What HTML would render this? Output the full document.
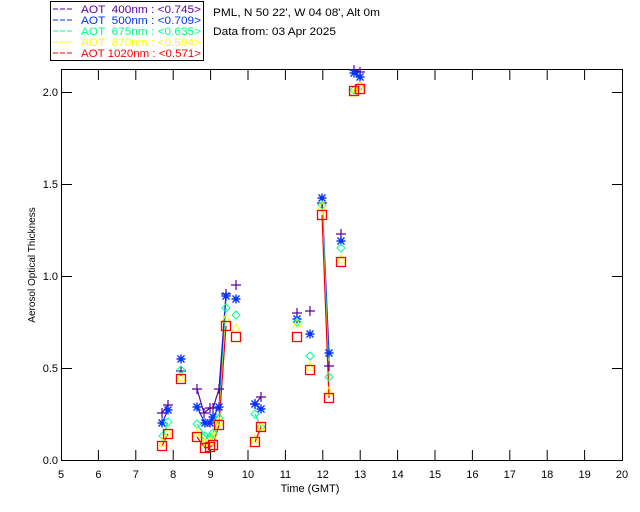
<!DOCTYPE html>
<html><head><meta charset="utf-8"><style>
body{margin:0;background:#fff;}
svg{display:block;font-family:"Liberation Sans",sans-serif;}
</style></head><body>
<svg width="640" height="512" viewBox="0 0 640 512" xmlns="http://www.w3.org/2000/svg">
<defs>
<g id="pl"><path d="M-5 0H5M0 -5V5" stroke="#5a00a0" stroke-width="1.2" fill="none"/></g>
<g id="as"><path d="M-4.5 0H4.5M0 -4.5V4.5M-3.5 -3.5L3.5 3.5M-3.5 3.5L3.5 -3.5" stroke="#0033ff" stroke-width="1.4" fill="none"/></g>
<g id="di"><path d="M0 -4L4 0L0 4L-4 0Z" stroke="#00ff99" stroke-width="1" fill="none"/></g>
<g id="tr"><path d="M0 -5L4 3H-4Z" stroke="#ffff00" stroke-width="1" fill="none"/></g>
<g id="sq"><rect x="-4.5" y="-4.5" width="9" height="9" stroke="#ff0000" stroke-width="1.3" fill="none"/></g>
</defs>
<rect width="640" height="512" fill="#fff"/>
<rect x="50.5" y="1.5" width="153" height="59" fill="none" stroke="#000"/>
<g font-size="11">
<line x1="53" y1="9" x2="73" y2="9" stroke="#5a00a0" stroke-dasharray="5,2"/><text x="81" y="13" fill="#5a00a0" xml:space="preserve" textLength="120" lengthAdjust="spacingAndGlyphs">AOT  400nm : &lt;0.745&gt;</text>
<line x1="53" y1="20" x2="73" y2="20" stroke="#0033ff" stroke-dasharray="5,2"/><text x="81" y="24" fill="#0033ff" xml:space="preserve" textLength="120" lengthAdjust="spacingAndGlyphs">AOT  500nm : &lt;0.709&gt;</text>
<line x1="53" y1="31" x2="73" y2="31" stroke="#00ff99" stroke-dasharray="5,2"/><text x="81" y="35" fill="#00ff80" xml:space="preserve" textLength="120" lengthAdjust="spacingAndGlyphs">AOT  675nm : &lt;0.635&gt;</text>
<line x1="53" y1="42" x2="73" y2="42" stroke="#ffff00" stroke-dasharray="5,2"/><text x="81" y="46" fill="#ffff00" xml:space="preserve" textLength="120" lengthAdjust="spacingAndGlyphs">AOT  870nm : &lt;0.594&gt;</text>
<line x1="53" y1="53" x2="73" y2="53" stroke="#ff0000" stroke-dasharray="5,2"/><text x="81" y="57" fill="#ff0000" xml:space="preserve" textLength="120" lengthAdjust="spacingAndGlyphs">AOT 1020nm : &lt;0.571&gt;</text>
<text x="213" y="16" fill="#000" textLength="167" lengthAdjust="spacingAndGlyphs">PML, N 50 22', W 04 08', Alt 0m</text>
<text x="213" y="35" fill="#000" textLength="123" lengthAdjust="spacingAndGlyphs">Data from: 03 Apr 2025</text>
</g>
<rect x="61.5" y="69.5" width="561" height="391" fill="none" stroke="#000"/>
<g stroke="#000">
<path d="M98.4 460V450M135.8 460V450M173.2 460V450M210.6 460V450M248 460V450M285.4 460V450M322.8 460V450M360.2 460V450M397.6 460V450M435 460V450M472.4 460V450M509.8 460V450M547.2 460V450M584.6 460V450"/>
<path d="M98.4 70V80M135.8 70V80M173.2 70V80M210.6 70V80M248 70V80M285.4 70V80M322.8 70V80M360.2 70V80M397.6 70V80M435 70V80M472.4 70V80M509.8 70V80M547.2 70V80M584.6 70V80"/>
<path d="M62 368.5H72M62 276.5H72M62 184.5H72M62 92.5H72M622 368.5H612M622 276.5H612M622 184.5H612M622 92.5H612"/>
</g>
<g font-size="11" fill="#000" text-anchor="middle">
<text x="61" y="478">5</text><text x="98.4" y="478">6</text><text x="135.8" y="478">7</text><text x="173.2" y="478">8</text><text x="210.6" y="478">9</text><text x="248" y="478">10</text><text x="285.4" y="478">11</text><text x="322.8" y="478">12</text><text x="360.2" y="478">13</text><text x="397.6" y="478">14</text><text x="435" y="478">15</text><text x="472.4" y="478">16</text><text x="509.8" y="478">17</text><text x="547.2" y="478">18</text><text x="584.6" y="478">19</text><text x="622" y="478">20</text>
<text x="310" y="492">Time (GMT)</text>
</g>
<g font-size="11" fill="#000" text-anchor="end">
<text x="58" y="464">0.0</text><text x="58" y="372">0.5</text><text x="58" y="280">1.0</text><text x="58" y="188">1.5</text><text x="58" y="96">2.0</text>
</g>
<text transform="translate(35 265) rotate(-90)" font-size="10" text-anchor="middle" fill="#000">Aerosol Optical Thickness</text>
<g fill="none" stroke-width="1.2">
<g stroke="#5a00a0"><polyline points="162,413 168,405"/><polyline points="197,389 204,413 210,408 213,408 219,389 226,294"/><polyline points="255,404 261,397"/><polyline points="322,203 329,366"/><polyline points="354,70 360,72"/></g>
<g stroke="#0033ff"><polyline points="162,423 168,410"/><polyline points="197,407 205,423 210,423 213,417 219,407 226,296"/><polyline points="255,404 261,409"/><polyline points="322,198 329,353"/><polyline points="354,73 360,77"/></g>
<g stroke="#00ff99"><polyline points="163,436 168,422"/><polyline points="197,424 205,436 210,437 213,433 219,418 226,308"/><polyline points="255,414 261,427"/><polyline points="322,205 329,377"/><polyline points="354,90 360,86"/></g>
<g stroke="#ffff00"><polyline points="163,443 168,433"/><polyline points="197,433 205,443 210,442 213,438 219,422 226,319"/><polyline points="255,440 261,427"/><polyline points="322,207 329,392"/><polyline points="354,93 360,87"/></g>
<g stroke="#ff0000"><polyline points="162,446 168,434"/><polyline points="197,437 205,448 210,447 213,445 219,425 226,326"/><polyline points="255,442 261,427"/><polyline points="322,215 329,398"/><polyline points="354,91 360,89"/></g>
</g>
<g>
<use href="#pl" x="162" y="413"/><use href="#pl" x="168" y="405"/><use href="#pl" x="181" y="371"/><use href="#pl" x="197" y="389"/><use href="#pl" x="204" y="413"/><use href="#pl" x="210" y="408"/><use href="#pl" x="213" y="408"/><use href="#pl" x="219" y="389"/><use href="#pl" x="226" y="294"/><use href="#pl" x="236" y="285"/><use href="#pl" x="255" y="404"/><use href="#pl" x="261" y="397"/><use href="#pl" x="297" y="313"/><use href="#pl" x="310" y="311"/><use href="#pl" x="322" y="203"/><use href="#pl" x="329" y="366"/><use href="#pl" x="341" y="234"/><use href="#pl" x="354" y="70"/><use href="#pl" x="360" y="72"/>
<use href="#as" x="162" y="423"/><use href="#as" x="168" y="410"/><use href="#as" x="181" y="359"/><use href="#as" x="197" y="407"/><use href="#as" x="205" y="423"/><use href="#as" x="210" y="423"/><use href="#as" x="213" y="417"/><use href="#as" x="219" y="407"/><use href="#as" x="226" y="296"/><use href="#as" x="236" y="299"/><use href="#as" x="255" y="404"/><use href="#as" x="261" y="409"/><use href="#as" x="297" y="319"/><use href="#as" x="310" y="334"/><use href="#as" x="322" y="198"/><use href="#as" x="329" y="353"/><use href="#as" x="341" y="241"/><use href="#as" x="354" y="73"/><use href="#as" x="360" y="77"/>
<use href="#di" x="163" y="436"/><use href="#di" x="168" y="422"/><use href="#di" x="181" y="370"/><use href="#di" x="197" y="424"/><use href="#di" x="205" y="436"/><use href="#di" x="210" y="437"/><use href="#di" x="213" y="433"/><use href="#di" x="219" y="418"/><use href="#di" x="226" y="308"/><use href="#di" x="236" y="315"/><use href="#di" x="255" y="414"/><use href="#di" x="261" y="427"/><use href="#di" x="297" y="322"/><use href="#di" x="310" y="356"/><use href="#di" x="322" y="205"/><use href="#di" x="329" y="377"/><use href="#di" x="341" y="248"/><use href="#di" x="354" y="90"/><use href="#di" x="360" y="86"/>
<use href="#tr" x="163" y="443"/><use href="#tr" x="168" y="433"/><use href="#tr" x="181" y="378"/><use href="#tr" x="197" y="433"/><use href="#tr" x="205" y="443"/><use href="#tr" x="210" y="442"/><use href="#tr" x="213" y="438"/><use href="#tr" x="219" y="422"/><use href="#tr" x="226" y="319"/><use href="#tr" x="236" y="329"/><use href="#tr" x="255" y="440"/><use href="#tr" x="261" y="427"/><use href="#tr" x="297" y="324"/><use href="#tr" x="310" y="367"/><use href="#tr" x="322" y="207"/><use href="#tr" x="329" y="392"/><use href="#tr" x="341" y="260"/><use href="#tr" x="354" y="93"/><use href="#tr" x="360" y="87"/>
<use href="#sq" x="162" y="446"/><use href="#sq" x="168" y="434"/><use href="#sq" x="181" y="379"/><use href="#sq" x="197" y="437"/><use href="#sq" x="205" y="448"/><use href="#sq" x="210" y="447"/><use href="#sq" x="213" y="445"/><use href="#sq" x="219" y="425"/><use href="#sq" x="226" y="326"/><use href="#sq" x="236" y="337"/><use href="#sq" x="255" y="442"/><use href="#sq" x="261" y="427"/><use href="#sq" x="297" y="337"/><use href="#sq" x="310" y="370"/><use href="#sq" x="322" y="215"/><use href="#sq" x="329" y="398"/><use href="#sq" x="341" y="262"/><use href="#sq" x="354" y="91"/><use href="#sq" x="360" y="89"/>
</g>
</svg>
</body></html>
